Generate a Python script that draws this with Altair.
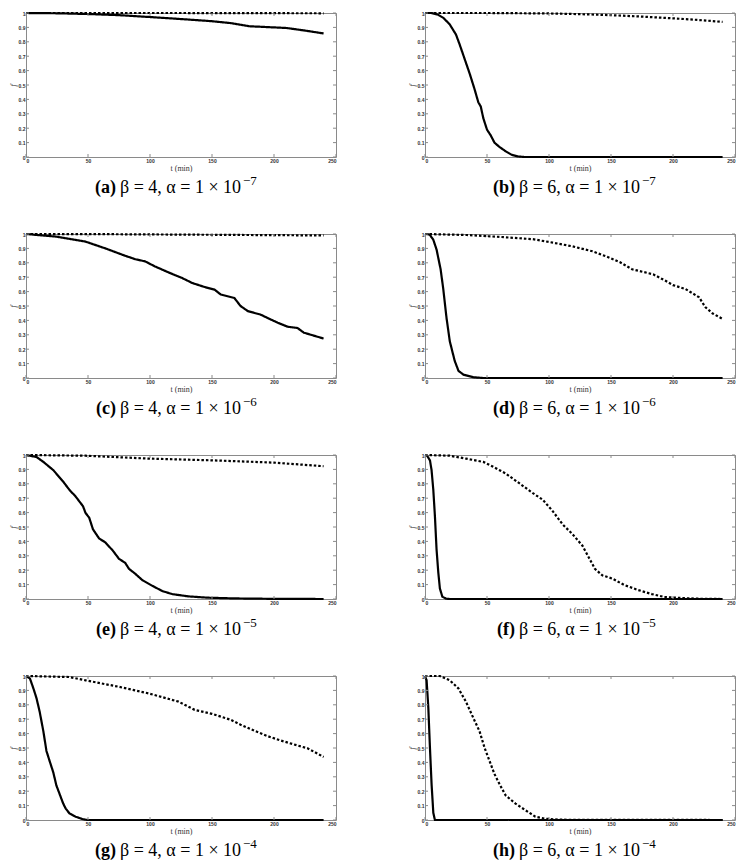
import altair as alt
import pandas as pd

# ---------------- data ----------------
XTICKS = [0, 50, 100, 150, 200, 250]
YTICKS = [0, 0.1, 0.2, 0.3, 0.4, 0.5, 0.6, 0.7, 0.8, 0.9, 1.0]

letters = ["a", "b", "c", "d", "e", "f", "g", "h"]
betas = [4, 6, 4, 6, 4, 6, 4, 6]
alpha_exps = ["−7", "−7", "−6", "−6", "−5", "−5", "−4", "−4"]

a_solid_t = [0, 25, 50, 75, 100, 125, 150, 165, 180, 200, 210, 225, 240]
a_solid_f = [1.0, 0.998, 0.993, 0.985, 0.972, 0.958, 0.943, 0.930, 0.908, 0.900, 0.896, 0.878, 0.858]
a_dot_t = [0, 120, 240]
a_dot_f = [1.0, 1.0, 0.998]

b_solid_t = [0, 5, 10, 15, 20, 25, 28, 32, 36, 40, 43, 45, 47, 50, 53, 56, 60, 65, 70, 75, 80, 240]
b_solid_f = [1, 1, 0.99, 0.965, 0.92, 0.85, 0.78, 0.68, 0.58, 0.47, 0.38, 0.35, 0.27, 0.19, 0.15, 0.10, 0.07, 0.04, 0.015, 0.004, 0, 0]
b_dot_t = [0, 50, 100, 125, 150, 175, 200, 220, 240]
b_dot_f = [1, 1, 0.997, 0.992, 0.985, 0.975, 0.963, 0.952, 0.938]

c_solid_t = [0, 24, 48, 64, 78, 88, 96, 104, 115, 126, 134, 144, 152, 157, 168, 173, 179, 189, 195, 203, 211, 219, 224, 240]
c_solid_f = [1, 0.982, 0.947, 0.90, 0.855, 0.825, 0.81, 0.775, 0.733, 0.694, 0.66, 0.632, 0.614, 0.58, 0.556, 0.50, 0.464, 0.441, 0.416, 0.384, 0.356, 0.347, 0.315, 0.274]
c_dot_t = [0, 60, 120, 180, 240]
c_dot_f = [1, 0.999, 0.996, 0.993, 0.99]

d_solid_t = [0, 2, 4, 6.7, 9.4, 10.7, 12.6, 14.7, 17.4, 20, 22, 24, 27, 31, 39, 47, 240]
d_solid_f = [1, 1, 0.993, 0.96, 0.89, 0.834, 0.755, 0.62, 0.414, 0.255, 0.186, 0.118, 0.05, 0.023, 0.005, 0, 0]
d_dot_t = [0, 33.5, 60, 87, 103, 119, 135, 146, 157, 167, 184, 194, 200, 210, 221, 226, 232, 240]
d_dot_f = [1, 0.993, 0.98, 0.964, 0.94, 0.914, 0.88, 0.845, 0.805, 0.755, 0.72, 0.675, 0.645, 0.618, 0.561, 0.493, 0.448, 0.41]

e_solid_t = [0, 8.5, 14, 22, 30, 35, 40, 46, 48, 51, 54, 59, 64, 70, 75, 80, 83, 88, 94, 102, 110, 118, 131, 147, 168, 200, 240]
e_solid_f = [1, 0.986, 0.952, 0.895, 0.815, 0.758, 0.712, 0.644, 0.598, 0.564, 0.484, 0.42, 0.393, 0.336, 0.279, 0.251, 0.21, 0.176, 0.13, 0.091, 0.055, 0.034, 0.018, 0.009, 0.004, 0.001, 0]
e_dot_t = [0, 48, 99, 150, 200, 240]
e_dot_f = [1, 0.995, 0.975, 0.963, 0.947, 0.922]

f_solid_t = [0, 1.3, 4, 5.3, 6.7, 8, 9.3, 10.7, 12, 14, 17, 20, 240]
f_solid_f = [1, 1, 0.963, 0.895, 0.758, 0.575, 0.347, 0.187, 0.073, 0.016, 0.002, 0, 0]
f_dot_t = [0, 20, 33, 47, 55, 65, 76, 87, 95, 103, 111, 119, 127, 132, 137, 143, 151, 161, 172, 183, 193, 207, 220, 240]
f_dot_f = [1, 0.995, 0.975, 0.952, 0.918, 0.872, 0.804, 0.735, 0.689, 0.61, 0.518, 0.45, 0.37, 0.29, 0.21, 0.164, 0.142, 0.096, 0.062, 0.034, 0.014, 0.007, 0.002, 0]

g_solid_t = [0, 3.2, 6, 8.5, 11, 14, 16.5, 19, 22, 24.5, 27, 30, 32, 35, 40, 46, 50, 240]
g_solid_f = [1, 0.982, 0.913, 0.845, 0.753, 0.616, 0.479, 0.411, 0.331, 0.24, 0.183, 0.114, 0.08, 0.046, 0.023, 0.005, 0, 0]
g_dot_t = [0, 35, 48, 75, 99, 123, 136, 150, 165, 173, 184, 195, 205, 216, 227, 240]
g_dot_f = [1, 0.993, 0.97, 0.925, 0.879, 0.822, 0.765, 0.737, 0.696, 0.662, 0.621, 0.582, 0.553, 0.525, 0.498, 0.438]

h_solid_t = [0, 1.3, 2.7, 4, 5.3, 6.7, 8, 240]
h_solid_f = [1, 0.97, 0.776, 0.5, 0.25, 0.05, 0, 0]
h_dot_t = [0, 12, 20, 27, 33, 39, 44, 48, 52, 56, 60, 65, 73, 81, 89, 97, 108, 240]
h_dot_f = [1, 1, 0.97, 0.913, 0.822, 0.708, 0.616, 0.502, 0.411, 0.32, 0.251, 0.171, 0.114, 0.068, 0.023, 0.009, 0.002, 0]

series = {
    "a": (a_solid_t, a_solid_f, a_dot_t, a_dot_f),
    "b": (b_solid_t, b_solid_f, b_dot_t, b_dot_f),
    "c": (c_solid_t, c_solid_f, c_dot_t, c_dot_f),
    "d": (d_solid_t, d_solid_f, d_dot_t, d_dot_f),
    "e": (e_solid_t, e_solid_f, e_dot_t, e_dot_f),
    "f": (f_solid_t, f_solid_f, f_dot_t, f_dot_f),
    "g": (g_solid_t, g_solid_f, g_dot_t, g_dot_f),
    "h": (h_solid_t, h_solid_f, h_dot_t, h_dot_f),
}

# ---------------- layout ----------------
W = 310
H = 144
GRAY = "#8a8a8a"
SPLIT_X = 90
CAP_Y = H + 31
CAP_FS = 18
EXP_DX = 123

xscale = alt.Scale(domain=[0, 250], nice=False, zero=False)
yscale = alt.Scale(domain=[0, 1], nice=False)
xaxis = alt.Axis(values=XTICKS, title="t (min)", ticks=False, domain=False,
                 labelPadding=1, titlePadding=1, grid=False)
yaxis = alt.Axis(values=YTICKS, title="f", ticks=False, domain=False,
                 format=".1~f", labelPadding=1, titlePadding=1, grid=False)


def X():
    return alt.X("t:Q", scale=xscale, axis=xaxis)


def Y():
    return alt.Y("f:Q", scale=yscale, axis=yaxis)


def panel(i):
    letter = letters[i]
    st, sf, dt, df_ = series[letter]
    rows = []
    for k, (t, f) in enumerate(zip(st, sf)):
        rows.append({"t": t, "f": f, "style": "solid", "i": k})
    for k, (t, f) in enumerate(zip(dt, df_)):
        rows.append({"t": t, "f": f, "style": "dotted", "i": k})
    data = pd.DataFrame(rows)

    lines = alt.Chart(data).mark_line(color="black", strokeWidth=2.2, strokeCap="butt").encode(
        x=X(), y=Y(),
        strokeDash=alt.StrokeDash("style:N", legend=None,
                                  scale=alt.Scale(domain=["solid", "dotted"], range=[[1, 0], [2.5, 2]])),
        detail="style:N",
        order="i:Q",
    )

    xt = pd.DataFrame({"t": XTICKS})
    yt = pd.DataFrame({"f": YTICKS})
    xb = alt.Chart(xt).mark_rule(color=GRAY, strokeWidth=1).encode(
        x=X(), y=alt.value(H), y2=alt.value(H - 3))
    xtop = alt.Chart(xt).mark_rule(color=GRAY, strokeWidth=1).encode(
        x=X(), y=alt.value(0), y2=alt.value(3))
    yl = alt.Chart(yt).mark_rule(color=GRAY, strokeWidth=1).encode(
        y=Y(), x=alt.value(0), x2=alt.value(3))
    yr = alt.Chart(yt).mark_rule(color=GRAY, strokeWidth=1).encode(
        y=Y(), x=alt.value(W - 3), x2=alt.value(W))

    cap = pd.DataFrame({"lab": [f"({letter})"],
                        "txt": [f"β = {betas[i]}, α = 1 × 10"],
                        "exp": [alpha_exps[i]]})
    lab = alt.Chart(cap).mark_text(align="right", baseline="middle", font="Liberation Serif",
                                   fontSize=CAP_FS, fontWeight="bold", color="black").encode(
        x=alt.value(SPLIT_X), y=alt.value(CAP_Y), text="lab:N")
    txt = alt.Chart(cap).mark_text(align="left", baseline="middle", font="Liberation Serif",
                                   fontSize=CAP_FS, color="black").encode(
        x=alt.value(SPLIT_X + 4), y=alt.value(CAP_Y), text="txt:N")
    ex = alt.Chart(cap).mark_text(align="left", baseline="middle", font="Liberation Serif",
                                  fontSize=13, color="black").encode(
        x=alt.value(SPLIT_X + 4 + EXP_DX), y=alt.value(CAP_Y - 7), text="exp:N")

    return alt.layer(lines, xb, xtop, yl, yr, lab, txt, ex).properties(width=W, height=H)


rows = []
for r in range(4):
    rows.append(alt.hconcat(panel(2 * r), panel(2 * r + 1), spacing=70))

chart = alt.vconcat(*rows, spacing=31).properties(padding=0).configure_view(
    stroke=GRAY, strokeWidth=1
).configure_axis(
    labelFont="Liberation Sans", labelFontSize=5, labelFontWeight="bold", labelColor="#333333",
    titleFont="Liberation Serif", titleFontSize=8, titleFontWeight="normal", titleColor="#333333",
).configure_axisY(titleFontStyle="italic")

chart.save("out.html", embed_options={"renderer": "svg", "actions": False})
